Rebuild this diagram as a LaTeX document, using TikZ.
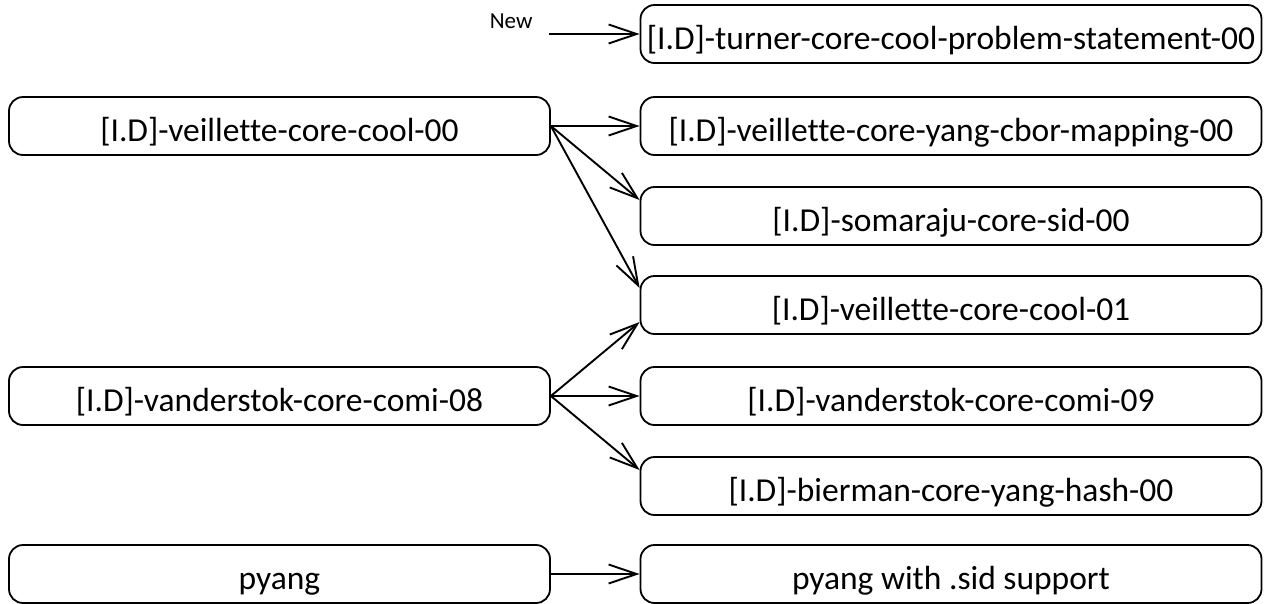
\documentclass[tikz,border=0pt]{standalone}
\usepackage{fontspec}
\setmainfont{Carlito}[Ligatures=NoCommon]
\usetikzlibrary{arrows.meta,positioning}
\tikzset{
  docbox/.style={draw, rounded corners=14pt, line width=1.8pt, minimum height=58pt,
    inner sep=0pt, text height=30pt, text depth=0pt, font=\fontsize{33.5}{38}\selectfont},
  leftbox/.style={docbox, minimum width=541pt},
  rightbox/.style={docbox, minimum width=621pt},
  link/.style={line width=1.9pt, -{Straight Barb[length=28pt,width=19pt,line width=1.9pt]}}
}
\begin{document}
\begin{tikzpicture}[x=1pt,y=-1pt]
\useasboundingbox (0,0) rectangle (1266,603);
% drafts on the right
\node[rightbox] (turner) at (951,34) {[I.D]-turner-core-cool-problem-statement-00};
\node[rightbox] (cbor) at (951,126) {[I.D]-veillette-core-yang-cbor-mapping-00};
\node[rightbox] (sid) at (951,216) {[I.D]-somaraju-core-sid-00};
\node[rightbox] (cool01) at (951,305) {[I.D]-veillette-core-cool-01};
\node[rightbox] (comi09) at (951,396) {[I.D]-vanderstok-core-comi-09};
\node[rightbox] (hash) at (951,486) {[I.D]-bierman-core-yang-hash-00};
\node[rightbox] (pyangsid) at (951,574) {pyang with .sid support};
% drafts on the left
\node[leftbox] (cool00) at (279.5,126) {[I.D]-veillette-core-cool-00};
\node[leftbox] (comi08) at (279.5,396) {[I.D]-vanderstok-core-comi-08};
\node[leftbox] (pyang) at (279.5,574) {pyang};
% new one
\node[anchor=base east, font=\fontsize{23}{26}\selectfont] (newlabel) at (536,28) {New};
\coordinate (newstart) at (549,34);
\draw[link] (newstart) -- (turner.west);
% links
\draw[link] (cool00.east) -- (cbor.west);
\draw[link] (cool00.east) -- ([yshift=16pt]sid.west);
\draw[link] (cool00.east) -- ([yshift=17pt]cool01.west);
\draw[link] (comi08.east) -- ([yshift=-17pt]cool01.west);
\draw[link] (comi08.east) -- (comi09.west);
\draw[link] (comi08.east) -- ([yshift=16pt]hash.west);
\draw[link] (pyang.east) -- (pyangsid.west);
\end{tikzpicture}
\end{document}
